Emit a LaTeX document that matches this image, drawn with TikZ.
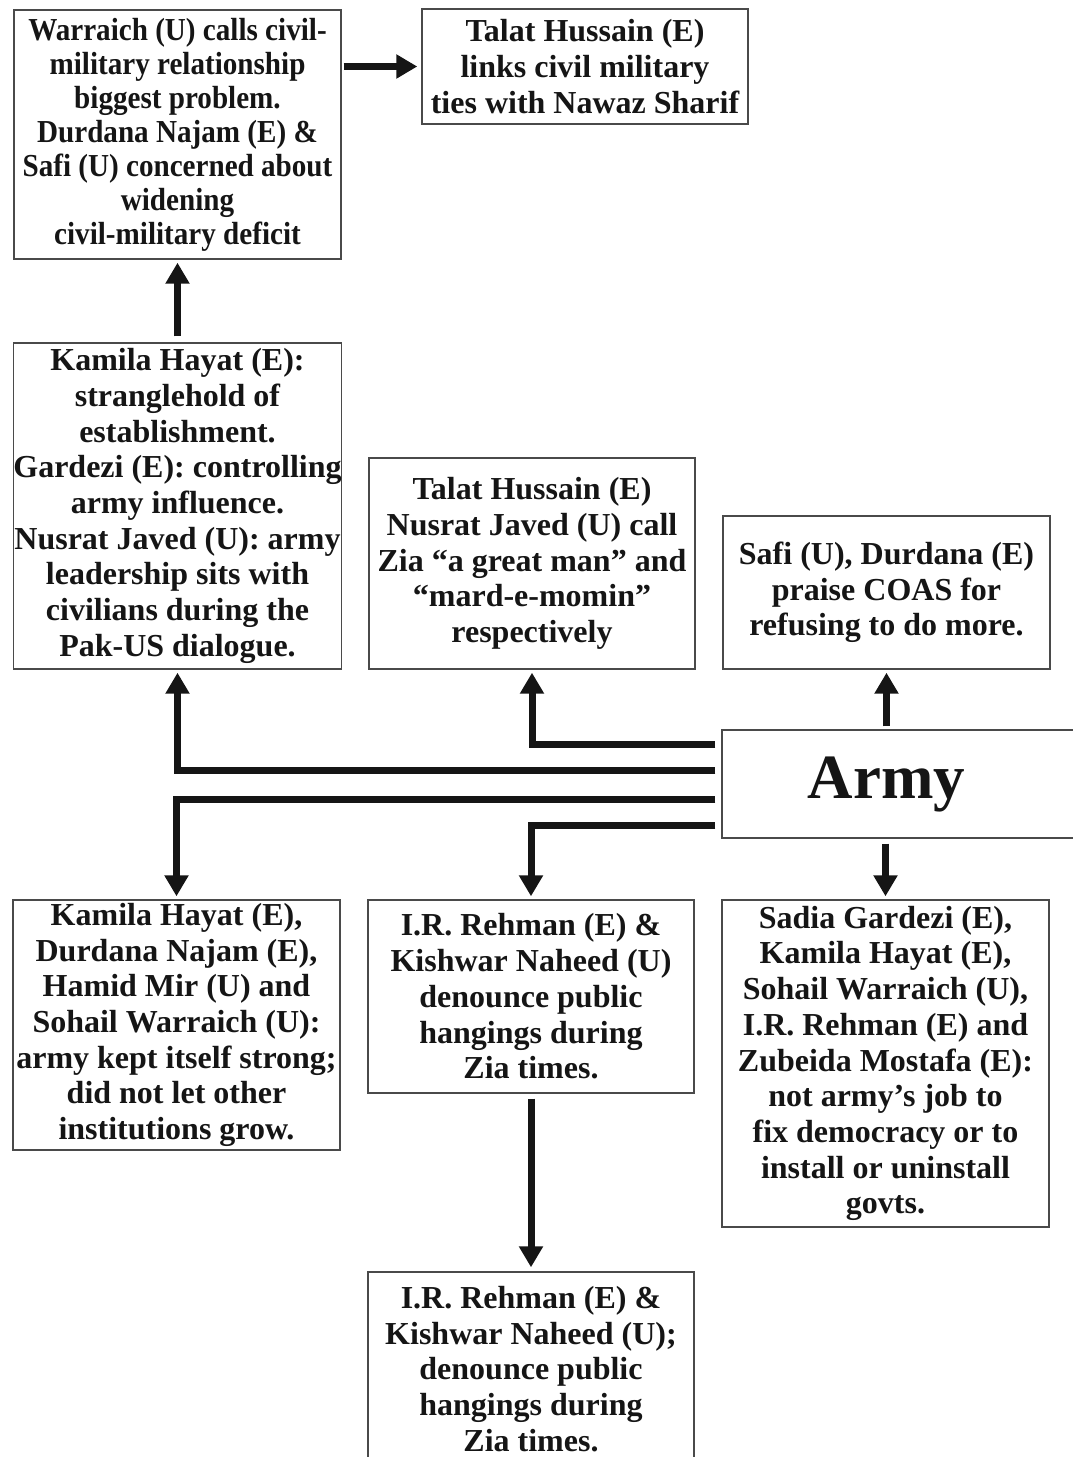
\documentclass[tikz,border=0pt]{standalone}
\usepackage{fontspec}
\setmainfont{Liberation Serif}
\newfontfamily\narrowserif{Liberation Serif}[FakeStretch=0.91]
\usetikzlibrary{arrows.meta,calc}
\definecolor{boxgray}{HTML}{4A4A4A}
\definecolor{ink}{HTML}{151515}
\begin{document}
\begin{tikzpicture}[x=1pt,y=-1pt,
  box/.style={draw=boxgray, line width=1.4pt, align=center, inner sep=0pt,
    text=ink, font=\fontsize{32}{35.7}\selectfont\bfseries},
  narrowbox/.style={box, font=\fontsize{32}{34}\selectfont\narrowserif\bfseries},
  conn/.style={draw=ink, line width=7pt, line join=miter,
    -{Triangle[length=21pt,width=23pt]}}]
\useasboundingbox (0,0) rectangle (1073,1457);

% upper row of statements
\node[narrowbox, minimum width=327pt, minimum height=249pt] (A) at (177.5,134.5)
  {Warraich (U) calls civil-\\military relationship\\biggest problem.\\Durdana Najam (E) \&\\Safi (U) concerned about\\widening\\civil-military deficit};
\node[box, minimum width=326pt, minimum height=115pt] (B) at (585,66.5)
  {Talat Hussain (E)\\links civil military\\ties with Nawaz Sharif};

% statements above the central node
\node[box, minimum width=327pt, minimum height=326pt] (C) at (177.5,506)
  {Kamila Hayat (E):\\stranglehold of\\establishment.\\Gardezi (E): controlling\\army influence.\\Nusrat Javed (U): army\\leadership sits with\\civilians during the\\Pak-US dialogue.};
\node[box, minimum width=326pt, minimum height=211pt] (D) at (532,563.5)
  {Talat Hussain (E)\\Nusrat Javed (U) call\\Zia “a great man” and\\“mard-e-momin”\\respectively};
\node[box, minimum width=327pt, minimum height=153pt] (E) at (886.5,592.5)
  {Safi (U), Durdana (E)\\praise COAS for\\refusing to do more.};

% central node
\node[box, minimum width=363pt, minimum height=108pt,
  font=\fontsize{63}{70}\selectfont\bfseries] (army) at (903.5,784)
  {\hspace*{-34pt}Army};

% statements below the central node
\node[box, minimum width=327pt, minimum height=250pt] (F) at (176.5,1025)
  {Kamila Hayat (E),\\Durdana Najam (E),\\Hamid Mir (U) and\\Sohail Warraich (U):\\army kept itself strong;\\did not let other\\institutions grow.};
\node[box, minimum width=326pt, minimum height=193pt] (G) at (531,996.5)
  {I.R. Rehman (E) \&\\Kishwar Naheed (U)\\denounce public\\hangings during\\Zia times.};
\node[box, minimum width=327pt, minimum height=327pt] (H) at (885.5,1063.5)
  {Sadia Gardezi (E),\\Kamila Hayat (E),\\Sohail Warraich (U),\\I.R. Rehman (E) and\\Zubeida Mostafa (E):\\not army’s job to\\fix democracy or to\\install or uninstall\\govts.};
\node[box, minimum width=326pt, minimum height=194pt] (I) at (531,1369)
  {I.R. Rehman (E) \&\\Kishwar Naheed (U);\\denounce public\\hangings during\\Zia times.};

% branch points on the left side of the central node
\coordinate (a1) at ($(army.west)+(-6,-40)$);
\coordinate (a2) at ($(army.west)+(-6,-14)$);
\coordinate (a3) at ($(army.west)+(-6,15)$);
\coordinate (a4) at ($(army.west)+(-6,41)$);

% connectors
\draw[conn, shorten >=3pt] (a1) -| (D.south);
\draw[conn, shorten >=3pt] (a2) -| (C.south);
\draw[conn, shorten >=3pt] (a3) -| (F.north);
\draw[conn, shorten >=3pt] (a4) -| (G.north);
\draw[conn, shorten <=3pt, shorten >=3pt] (army.north -| E.south) -- (E.south);
\draw[conn, shorten <=5pt, shorten >=3pt] (army.south -| H.north) -- (H.north);
\draw[conn, shorten <=5pt, shorten >=4pt] (G.south) -- (I.north);
\draw[conn, shorten <=6pt, shorten >=3pt] (C.north) -- (A.south);
\draw[conn, line width=6.5pt, shorten <=2pt, shorten >=4pt] (A.east |- B.west) -- (B.west);
\end{tikzpicture}
\end{document}
